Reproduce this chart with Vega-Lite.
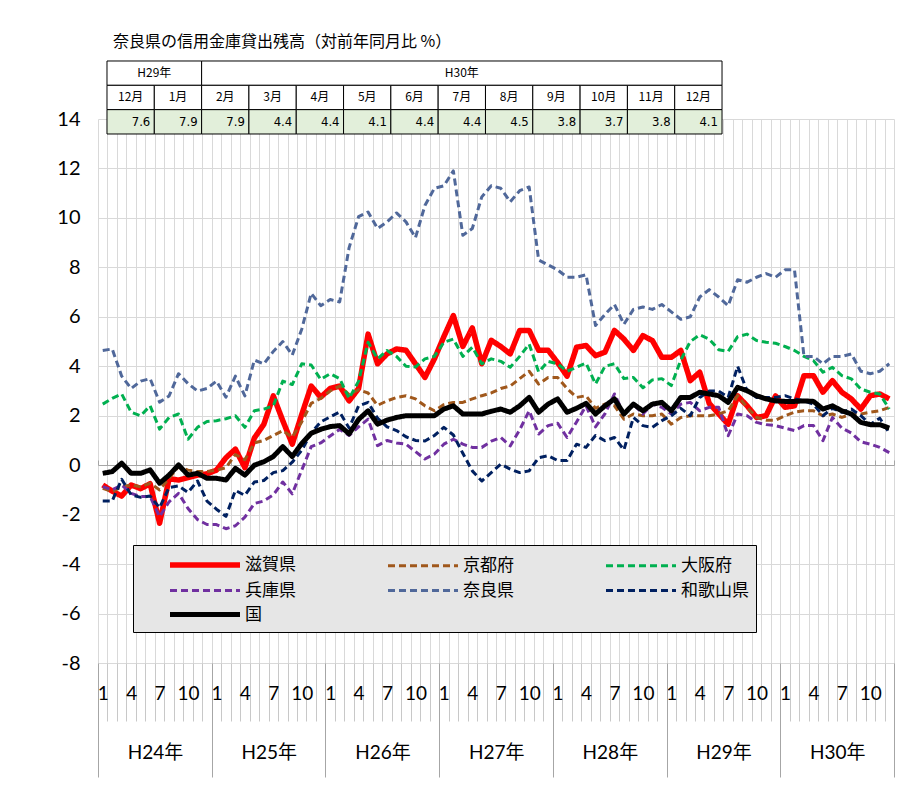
{
"$schema":"https://vega.github.io/schema/vega-lite/v6.json",
"autosize":{"type":"none"},
"width":796,"height":544,
"padding":{"left":98,"top":119,"right":10,"bottom":125},
"background":"#ffffff",
"config":{"view":{"stroke":null},"font":"Lato"},
"title":{"text":"奈良県の信用金庫貸出残高（対前年同月比 %）","anchor":"start","frame":"group","dx":15,"offset":10,"font":"Noto Sans CJK JP","fontSize":16,"fontWeight":"normal","color":"#000000"},
"datasets":{
"lines":[
{"s":"滋賀県","t":1,"v":-0.8},{"s":"滋賀県","t":2,"v":-1.05},{"s":"滋賀県","t":3,"v":-1.25},{"s":"滋賀県","t":4,"v":-0.8},{"s":"滋賀県","t":5,"v":-0.95},{"s":"滋賀県","t":6,"v":-0.75},{"s":"滋賀県","t":7,"v":-2.35},{"s":"滋賀県","t":8,"v":-0.55},{"s":"滋賀県","t":9,"v":-0.6},{"s":"滋賀県","t":10,"v":-0.5},{"s":"滋賀県","t":11,"v":-0.4},{"s":"滋賀県","t":12,"v":-0.35},
{"s":"滋賀県","t":13,"v":-0.2},{"s":"滋賀県","t":14,"v":0.3},{"s":"滋賀県","t":15,"v":0.65},{"s":"滋賀県","t":16,"v":-0.1},{"s":"滋賀県","t":17,"v":1.1},{"s":"滋賀県","t":18,"v":1.65},{"s":"滋賀県","t":19,"v":2.8},{"s":"滋賀県","t":20,"v":1.8},{"s":"滋賀県","t":21,"v":0.85},{"s":"滋賀県","t":22,"v":2.05},{"s":"滋賀県","t":23,"v":3.2},{"s":"滋賀県","t":24,"v":2.75},
{"s":"滋賀県","t":25,"v":3.1},{"s":"滋賀県","t":26,"v":3.2},{"s":"滋賀県","t":27,"v":2.6},{"s":"滋賀県","t":28,"v":3.1},{"s":"滋賀県","t":29,"v":5.3},{"s":"滋賀県","t":30,"v":4.1},{"s":"滋賀県","t":31,"v":4.5},{"s":"滋賀県","t":32,"v":4.7},{"s":"滋賀県","t":33,"v":4.65},{"s":"滋賀県","t":34,"v":4.1},{"s":"滋賀県","t":35,"v":3.55},{"s":"滋賀県","t":36,"v":4.3},
{"s":"滋賀県","t":37,"v":5.2},{"s":"滋賀県","t":38,"v":6.05},{"s":"滋賀県","t":39,"v":4.8},{"s":"滋賀県","t":40,"v":5.55},{"s":"滋賀県","t":41,"v":4.1},{"s":"滋賀県","t":42,"v":5.05},{"s":"滋賀県","t":43,"v":4.8},{"s":"滋賀県","t":44,"v":4.5},{"s":"滋賀県","t":45,"v":5.45},{"s":"滋賀県","t":46,"v":5.45},{"s":"滋賀県","t":47,"v":4.65},{"s":"滋賀県","t":48,"v":4.65},
{"s":"滋賀県","t":49,"v":4.15},{"s":"滋賀県","t":50,"v":3.6},{"s":"滋賀県","t":51,"v":4.77},{"s":"滋賀県","t":52,"v":4.84},{"s":"滋賀県","t":53,"v":4.43},{"s":"滋賀県","t":54,"v":4.57},{"s":"滋賀県","t":55,"v":5.45},{"s":"滋賀県","t":56,"v":5.1},{"s":"滋賀県","t":57,"v":4.64},{"s":"滋賀県","t":58,"v":5.24},{"s":"滋賀県","t":59,"v":5.04},{"s":"滋賀県","t":60,"v":4.36},
{"s":"滋賀県","t":61,"v":4.36},{"s":"滋賀県","t":62,"v":4.64},{"s":"滋賀県","t":63,"v":3.42},{"s":"滋賀県","t":64,"v":3.76},{"s":"滋賀県","t":65,"v":2.5},{"s":"滋賀県","t":66,"v":2.07},{"s":"滋賀県","t":67,"v":1.66},{"s":"滋賀県","t":68,"v":2.8},{"s":"滋賀県","t":69,"v":2.4},{"s":"滋賀県","t":70,"v":1.93},{"s":"滋賀県","t":71,"v":2.0},{"s":"滋賀県","t":72,"v":2.8},
{"s":"滋賀県","t":73,"v":2.34},{"s":"滋賀県","t":74,"v":2.4},{"s":"滋賀県","t":75,"v":3.62},{"s":"滋賀県","t":76,"v":3.62},{"s":"滋賀県","t":77,"v":2.95},{"s":"滋賀県","t":78,"v":3.42},{"s":"滋賀県","t":79,"v":2.95},{"s":"滋賀県","t":80,"v":2.68},{"s":"滋賀県","t":81,"v":2.27},{"s":"滋賀県","t":82,"v":2.81},{"s":"滋賀県","t":83,"v":2.88},{"s":"滋賀県","t":84,"v":2.68},
{"s":"京都府","t":1,"v":-0.94},{"s":"京都府","t":2,"v":-1.07},{"s":"京都府","t":3,"v":-0.87},{"s":"京都府","t":4,"v":-0.8},{"s":"京都府","t":5,"v":-0.87},{"s":"京都府","t":6,"v":-0.73},{"s":"京都府","t":7,"v":-1.0},{"s":"京都府","t":8,"v":-0.53},{"s":"京都府","t":9,"v":-0.06},{"s":"京都府","t":10,"v":-0.2},{"s":"京都府","t":11,"v":-0.26},{"s":"京都府","t":12,"v":-0.26},
{"s":"京都府","t":13,"v":-0.2},{"s":"京都府","t":14,"v":-0.1},{"s":"京都府","t":15,"v":0.43},{"s":"京都府","t":16,"v":0.22},{"s":"京都府","t":17,"v":0.9},{"s":"京都府","t":18,"v":1.0},{"s":"京都府","t":19,"v":1.2},{"s":"京都府","t":20,"v":1.4},{"s":"京都府","t":21,"v":1.13},{"s":"京都府","t":22,"v":1.75},{"s":"京都府","t":23,"v":2.5},{"s":"京都府","t":24,"v":2.7},
{"s":"京都府","t":25,"v":3.0},{"s":"京都府","t":26,"v":3.2},{"s":"京都府","t":27,"v":2.85},{"s":"京都府","t":28,"v":3.05},{"s":"京都府","t":29,"v":2.92},{"s":"京都府","t":30,"v":2.42},{"s":"京都府","t":31,"v":2.6},{"s":"京都府","t":32,"v":2.74},{"s":"京都府","t":33,"v":2.81},{"s":"京都府","t":34,"v":2.68},{"s":"京都府","t":35,"v":2.4},{"s":"京都府","t":36,"v":2.2},
{"s":"京都府","t":37,"v":2.45},{"s":"京都府","t":38,"v":2.54},{"s":"京都府","t":39,"v":2.54},{"s":"京都府","t":40,"v":2.68},{"s":"京都府","t":41,"v":2.81},{"s":"京都府","t":42,"v":2.92},{"s":"京都府","t":43,"v":3.1},{"s":"京都府","t":44,"v":3.2},{"s":"京都府","t":45,"v":3.5},{"s":"京都府","t":46,"v":3.8},{"s":"京都府","t":47,"v":3.28},{"s":"京都府","t":48,"v":3.55},
{"s":"京都府","t":49,"v":3.55},{"s":"京都府","t":50,"v":3.1},{"s":"京都府","t":51,"v":2.74},{"s":"京都府","t":52,"v":2.81},{"s":"京都府","t":53,"v":2.3},{"s":"京都府","t":54,"v":2.47},{"s":"京都府","t":55,"v":2.4},{"s":"京都府","t":56,"v":1.86},{"s":"京都府","t":57,"v":2.07},{"s":"京都府","t":58,"v":2.0},{"s":"京都府","t":59,"v":2.0},{"s":"京都府","t":60,"v":2.07},
{"s":"京都府","t":61,"v":1.66},{"s":"京都府","t":62,"v":1.93},{"s":"京都府","t":63,"v":2.0},{"s":"京都府","t":64,"v":2.0},{"s":"京都府","t":65,"v":2.0},{"s":"京都府","t":66,"v":2.07},{"s":"京都府","t":67,"v":2.2},{"s":"京都府","t":68,"v":2.81},{"s":"京都府","t":69,"v":2.34},{"s":"京都府","t":70,"v":1.93},{"s":"京都府","t":71,"v":1.82},{"s":"京都府","t":72,"v":1.82},
{"s":"京都府","t":73,"v":2.0},{"s":"京都府","t":74,"v":2.14},{"s":"京都府","t":75,"v":2.2},{"s":"京都府","t":76,"v":2.2},{"s":"京都府","t":77,"v":2.0},{"s":"京都府","t":78,"v":2.07},{"s":"京都府","t":79,"v":1.93},{"s":"京都府","t":80,"v":2.07},{"s":"京都府","t":81,"v":2.07},{"s":"京都府","t":82,"v":2.14},{"s":"京都府","t":83,"v":2.2},{"s":"京都府","t":84,"v":2.34},
{"s":"大阪府","t":1,"v":2.47},{"s":"大阪府","t":2,"v":2.7},{"s":"大阪府","t":3,"v":2.88},{"s":"大阪府","t":4,"v":2.14},{"s":"大阪府","t":5,"v":2.0},{"s":"大阪府","t":6,"v":2.4},{"s":"大阪府","t":7,"v":1.46},{"s":"大阪府","t":8,"v":1.93},{"s":"大阪府","t":9,"v":2.07},{"s":"大阪府","t":10,"v":1.05},{"s":"大阪府","t":11,"v":1.53},{"s":"大阪府","t":12,"v":1.77},
{"s":"大阪府","t":13,"v":1.8},{"s":"大阪府","t":14,"v":1.88},{"s":"大阪府","t":15,"v":2.0},{"s":"大阪府","t":16,"v":1.53},{"s":"大阪府","t":17,"v":2.2},{"s":"大阪府","t":18,"v":2.27},{"s":"大阪府","t":19,"v":2.4},{"s":"大阪府","t":20,"v":3.4},{"s":"大阪府","t":21,"v":3.26},{"s":"大阪府","t":22,"v":4.1},{"s":"大阪府","t":23,"v":4.05},{"s":"大阪府","t":24,"v":3.47},
{"s":"大阪府","t":25,"v":3.7},{"s":"大阪府","t":26,"v":3.5},{"s":"大阪府","t":27,"v":2.7},{"s":"大阪府","t":28,"v":3.4},{"s":"大阪府","t":29,"v":4.97},{"s":"大阪府","t":30,"v":4.3},{"s":"大阪府","t":31,"v":4.64},{"s":"大阪府","t":32,"v":4.4},{"s":"大阪府","t":33,"v":4.0},{"s":"大阪府","t":34,"v":3.97},{"s":"大阪府","t":35,"v":4.3},{"s":"大阪府","t":36,"v":4.4},
{"s":"大阪府","t":37,"v":4.97},{"s":"大阪府","t":38,"v":5.1},{"s":"大阪府","t":39,"v":4.4},{"s":"大阪府","t":40,"v":4.77},{"s":"大阪府","t":41,"v":4.1},{"s":"大阪府","t":42,"v":4.3},{"s":"大阪府","t":43,"v":4.2},{"s":"大阪府","t":44,"v":3.96},{"s":"大阪府","t":45,"v":4.4},{"s":"大阪府","t":46,"v":4.9},{"s":"大阪府","t":47,"v":3.77},{"s":"大阪府","t":48,"v":4.2},
{"s":"大阪府","t":49,"v":4.1},{"s":"大阪府","t":50,"v":3.8},{"s":"大阪府","t":51,"v":3.96},{"s":"大阪府","t":52,"v":4.13},{"s":"大阪府","t":53,"v":3.28},{"s":"大阪府","t":54,"v":4.0},{"s":"大阪府","t":55,"v":4.1},{"s":"大阪府","t":56,"v":3.5},{"s":"大阪府","t":57,"v":3.55},{"s":"大阪府","t":58,"v":3.13},{"s":"大阪府","t":59,"v":3.45},{"s":"大阪府","t":60,"v":3.5},
{"s":"大阪府","t":61,"v":3.22},{"s":"大阪府","t":62,"v":4.25},{"s":"大阪府","t":63,"v":5.0},{"s":"大阪府","t":64,"v":5.27},{"s":"大阪府","t":65,"v":5.1},{"s":"大阪府","t":66,"v":4.67},{"s":"大阪府","t":67,"v":4.6},{"s":"大阪府","t":68,"v":5.2},{"s":"大阪府","t":69,"v":5.3},{"s":"大阪府","t":70,"v":5.04},{"s":"大阪府","t":71,"v":4.97},{"s":"大阪府","t":72,"v":4.93},
{"s":"大阪府","t":73,"v":4.8},{"s":"大阪府","t":74,"v":4.64},{"s":"大阪府","t":75,"v":4.4},{"s":"大阪府","t":76,"v":4.23},{"s":"大阪府","t":77,"v":3.76},{"s":"大阪府","t":78,"v":3.96},{"s":"大阪府","t":79,"v":3.62},{"s":"大阪府","t":80,"v":3.49},{"s":"大阪府","t":81,"v":3.08},{"s":"大阪府","t":82,"v":2.95},{"s":"大阪府","t":83,"v":2.88},{"s":"大阪府","t":84,"v":2.27},
{"s":"兵庫県","t":1,"v":-0.87},{"s":"兵庫県","t":2,"v":-1.0},{"s":"兵庫県","t":3,"v":-0.8},{"s":"兵庫県","t":4,"v":-1.14},{"s":"兵庫県","t":5,"v":-1.27},{"s":"兵庫県","t":6,"v":-1.27},{"s":"兵庫県","t":7,"v":-2.08},{"s":"兵庫県","t":8,"v":-1.48},{"s":"兵庫県","t":9,"v":-1.14},{"s":"兵庫県","t":10,"v":-1.75},{"s":"兵庫県","t":11,"v":-2.2},{"s":"兵庫県","t":12,"v":-2.4},
{"s":"兵庫県","t":13,"v":-2.4},{"s":"兵庫県","t":14,"v":-2.57},{"s":"兵庫県","t":15,"v":-2.45},{"s":"兵庫県","t":16,"v":-2.1},{"s":"兵庫県","t":17,"v":-1.55},{"s":"兵庫県","t":18,"v":-1.45},{"s":"兵庫県","t":19,"v":-1.2},{"s":"兵庫県","t":20,"v":-0.68},{"s":"兵庫県","t":21,"v":-1.16},{"s":"兵庫県","t":22,"v":-0.2},{"s":"兵庫県","t":23,"v":0.75},{"s":"兵庫県","t":24,"v":0.9},
{"s":"兵庫県","t":25,"v":1.18},{"s":"兵庫県","t":26,"v":1.45},{"s":"兵庫県","t":27,"v":1.2},{"s":"兵庫県","t":28,"v":1.55},{"s":"兵庫県","t":29,"v":1.86},{"s":"兵庫県","t":30,"v":0.79},{"s":"兵庫県","t":31,"v":1.0},{"s":"兵庫県","t":32,"v":0.9},{"s":"兵庫県","t":33,"v":0.85},{"s":"兵庫県","t":34,"v":0.55},{"s":"兵庫県","t":35,"v":0.25},{"s":"兵庫県","t":36,"v":0.45},
{"s":"兵庫県","t":37,"v":0.85},{"s":"兵庫県","t":38,"v":1.05},{"s":"兵庫県","t":39,"v":0.85},{"s":"兵庫県","t":40,"v":0.72},{"s":"兵庫県","t":41,"v":0.72},{"s":"兵庫県","t":42,"v":0.97},{"s":"兵庫県","t":43,"v":1.12},{"s":"兵庫県","t":44,"v":0.78},{"s":"兵庫県","t":45,"v":1.43},{"s":"兵庫県","t":46,"v":2.2},{"s":"兵庫県","t":47,"v":1.26},{"s":"兵庫県","t":48,"v":1.6},
{"s":"兵庫県","t":49,"v":1.7},{"s":"兵庫県","t":50,"v":1.12},{"s":"兵庫県","t":51,"v":1.75},{"s":"兵庫県","t":52,"v":2.4},{"s":"兵庫県","t":53,"v":1.55},{"s":"兵庫県","t":54,"v":2.08},{"s":"兵庫県","t":55,"v":2.88},{"s":"兵庫県","t":56,"v":2.07},{"s":"兵庫県","t":57,"v":2.47},{"s":"兵庫県","t":58,"v":2.07},{"s":"兵庫県","t":59,"v":2.47},{"s":"兵庫県","t":60,"v":2.34},
{"s":"兵庫県","t":61,"v":2.07},{"s":"兵庫県","t":62,"v":2.47},{"s":"兵庫県","t":63,"v":2.54},{"s":"兵庫県","t":64,"v":2.2},{"s":"兵庫県","t":65,"v":2.34},{"s":"兵庫県","t":66,"v":2.34},{"s":"兵庫県","t":67,"v":1.19},{"s":"兵庫県","t":68,"v":2.07},{"s":"兵庫県","t":69,"v":2.0},{"s":"兵庫県","t":70,"v":1.73},{"s":"兵庫県","t":71,"v":1.64},{"s":"兵庫県","t":72,"v":1.6},
{"s":"兵庫県","t":73,"v":1.5},{"s":"兵庫県","t":74,"v":1.4},{"s":"兵庫県","t":75,"v":1.6},{"s":"兵庫県","t":76,"v":1.6},{"s":"兵庫県","t":77,"v":0.99},{"s":"兵庫県","t":78,"v":1.93},{"s":"兵庫県","t":79,"v":1.5},{"s":"兵庫県","t":80,"v":1.3},{"s":"兵庫県","t":81,"v":0.95},{"s":"兵庫県","t":82,"v":0.85},{"s":"兵庫県","t":83,"v":0.72},{"s":"兵庫県","t":84,"v":0.51},
{"s":"奈良県","t":1,"v":4.64},{"s":"奈良県","t":2,"v":4.7},{"s":"奈良県","t":3,"v":3.6},{"s":"奈良県","t":4,"v":3.1},{"s":"奈良県","t":5,"v":3.4},{"s":"奈良県","t":6,"v":3.5},{"s":"奈良県","t":7,"v":2.55},{"s":"奈良県","t":8,"v":2.8},{"s":"奈良県","t":9,"v":3.7},{"s":"奈良県","t":10,"v":3.3},{"s":"奈良県","t":11,"v":3.0},{"s":"奈良県","t":12,"v":3.1},
{"s":"奈良県","t":13,"v":3.4},{"s":"奈良県","t":14,"v":2.75},{"s":"奈良県","t":15,"v":3.6},{"s":"奈良県","t":16,"v":2.8},{"s":"奈良県","t":17,"v":4.25},{"s":"奈良県","t":18,"v":4.1},{"s":"奈良県","t":19,"v":4.6},{"s":"奈良県","t":20,"v":5.0},{"s":"奈良県","t":21,"v":4.45},{"s":"奈良県","t":22,"v":5.5},{"s":"奈良県","t":23,"v":6.95},{"s":"奈良県","t":24,"v":6.45},
{"s":"奈良県","t":25,"v":6.7},{"s":"奈良県","t":26,"v":6.6},{"s":"奈良県","t":27,"v":8.8},{"s":"奈良県","t":28,"v":10.05},{"s":"奈良県","t":29,"v":10.24},{"s":"奈良県","t":30,"v":9.57},{"s":"奈良県","t":31,"v":9.84},{"s":"奈良県","t":32,"v":10.2},{"s":"奈良県","t":33,"v":9.84},{"s":"奈良県","t":34,"v":9.2},{"s":"奈良県","t":35,"v":10.5},{"s":"奈良県","t":36,"v":11.2},
{"s":"奈良県","t":37,"v":11.3},{"s":"奈良県","t":38,"v":11.9},{"s":"奈良県","t":39,"v":9.3},{"s":"奈良県","t":40,"v":9.57},{"s":"奈良県","t":41,"v":10.85},{"s":"奈良県","t":42,"v":11.3},{"s":"奈良県","t":43,"v":11.2},{"s":"奈良県","t":44,"v":10.65},{"s":"奈良県","t":45,"v":11.1},{"s":"奈良県","t":46,"v":11.25},{"s":"奈良県","t":47,"v":8.3},{"s":"奈良県","t":48,"v":8.1},
{"s":"奈良県","t":49,"v":7.9},{"s":"奈良県","t":50,"v":7.6},{"s":"奈良県","t":51,"v":7.6},{"s":"奈良県","t":52,"v":7.7},{"s":"奈良県","t":53,"v":5.65},{"s":"奈良県","t":54,"v":6.1},{"s":"奈良県","t":55,"v":6.5},{"s":"奈良県","t":56,"v":5.7},{"s":"奈良県","t":57,"v":6.3},{"s":"奈良県","t":58,"v":6.4},{"s":"奈良県","t":59,"v":6.3},{"s":"奈良県","t":60,"v":6.5},
{"s":"奈良県","t":61,"v":6.2},{"s":"奈良県","t":62,"v":5.9},{"s":"奈良県","t":63,"v":6.0},{"s":"奈良県","t":64,"v":6.8},{"s":"奈良県","t":65,"v":7.1},{"s":"奈良県","t":66,"v":6.8},{"s":"奈良県","t":67,"v":6.45},{"s":"奈良県","t":68,"v":7.5},{"s":"奈良県","t":69,"v":7.4},{"s":"奈良県","t":70,"v":7.6},{"s":"奈良県","t":71,"v":7.75},{"s":"奈良県","t":72,"v":7.6},
{"s":"奈良県","t":73,"v":7.9},{"s":"奈良県","t":74,"v":7.9},{"s":"奈良県","t":75,"v":4.4},{"s":"奈良県","t":76,"v":4.4},{"s":"奈良県","t":77,"v":4.1},{"s":"奈良県","t":78,"v":4.4},{"s":"奈良県","t":79,"v":4.4},{"s":"奈良県","t":80,"v":4.5},{"s":"奈良県","t":81,"v":3.8},{"s":"奈良県","t":82,"v":3.7},{"s":"奈良県","t":83,"v":3.8},{"s":"奈良県","t":84,"v":4.1},
{"s":"和歌山県","t":1,"v":-1.45},{"s":"和歌山県","t":2,"v":-1.45},{"s":"和歌山県","t":3,"v":-0.57},{"s":"和歌山県","t":4,"v":-1.2},{"s":"和歌山県","t":5,"v":-1.3},{"s":"和歌山県","t":6,"v":-1.25},{"s":"和歌山県","t":7,"v":-1.72},{"s":"和歌山県","t":8,"v":-0.9},{"s":"和歌山県","t":9,"v":-0.84},{"s":"和歌山県","t":10,"v":-1.1},{"s":"和歌山県","t":11,"v":-0.64},{"s":"和歌山県","t":12,"v":-1.45},
{"s":"和歌山県","t":13,"v":-1.78},{"s":"和歌山県","t":14,"v":-2.07},{"s":"和歌山県","t":15,"v":-1.02},{"s":"和歌山県","t":16,"v":-1.22},{"s":"和歌山県","t":17,"v":-0.68},{"s":"和歌山県","t":18,"v":-0.62},{"s":"和歌山県","t":19,"v":-0.3},{"s":"和歌山県","t":20,"v":-0.22},{"s":"和歌山県","t":21,"v":0.12},{"s":"和歌山県","t":22,"v":0.6},{"s":"和歌山県","t":23,"v":1.3},{"s":"和歌山県","t":24,"v":1.75},
{"s":"和歌山県","t":25,"v":1.95},{"s":"和歌山県","t":26,"v":2.15},{"s":"和歌山県","t":27,"v":1.5},{"s":"和歌山県","t":28,"v":2.4},{"s":"和歌山県","t":29,"v":2.54},{"s":"和歌山県","t":30,"v":1.9},{"s":"和歌山県","t":31,"v":1.55},{"s":"和歌山県","t":32,"v":1.4},{"s":"和歌山県","t":33,"v":1.15},{"s":"和歌山県","t":34,"v":1.0},{"s":"和歌山県","t":35,"v":0.98},{"s":"和歌山県","t":36,"v":1.2},
{"s":"和歌山県","t":37,"v":1.53},{"s":"和歌山県","t":38,"v":1.22},{"s":"和歌山県","t":39,"v":0.48},{"s":"和歌山県","t":40,"v":-0.23},{"s":"和歌山県","t":41,"v":-0.64},{"s":"和歌山県","t":42,"v":-0.3},{"s":"和歌山県","t":43,"v":0.04},{"s":"和歌山県","t":44,"v":-0.16},{"s":"和歌山県","t":45,"v":-0.3},{"s":"和歌山県","t":46,"v":-0.23},{"s":"和歌山県","t":47,"v":0.3},{"s":"和歌山県","t":48,"v":0.38},
{"s":"和歌山県","t":49,"v":0.19},{"s":"和歌山県","t":50,"v":0.19},{"s":"和歌山県","t":51,"v":0.85},{"s":"和歌山県","t":52,"v":0.72},{"s":"和歌山県","t":53,"v":1.2},{"s":"和歌山県","t":54,"v":0.99},{"s":"和歌山県","t":55,"v":1.12},{"s":"和歌山県","t":56,"v":0.62},{"s":"和歌山県","t":57,"v":1.93},{"s":"和歌山県","t":58,"v":1.6},{"s":"和歌山県","t":59,"v":1.53},{"s":"和歌山県","t":60,"v":1.8},
{"s":"和歌山県","t":61,"v":2.0},{"s":"和歌山県","t":62,"v":2.3},{"s":"和歌山県","t":63,"v":2.0},{"s":"和歌山県","t":64,"v":2.74},{"s":"和歌山県","t":65,"v":3.0},{"s":"和歌山県","t":66,"v":3.0},{"s":"和歌山県","t":67,"v":2.74},{"s":"和歌山県","t":68,"v":4.0},{"s":"和歌山県","t":69,"v":3.0},{"s":"和歌山県","t":70,"v":2.74},{"s":"和歌山県","t":71,"v":2.74},{"s":"和歌山県","t":72,"v":2.74},
{"s":"和歌山県","t":73,"v":2.81},{"s":"和歌山県","t":74,"v":2.68},{"s":"和歌山県","t":75,"v":2.6},{"s":"和歌山県","t":76,"v":2.47},{"s":"和歌山県","t":77,"v":2.0},{"s":"和歌山県","t":78,"v":2.3},{"s":"和歌山県","t":79,"v":2.14},{"s":"和歌山県","t":80,"v":2.27},{"s":"和歌山県","t":81,"v":2.0},{"s":"和歌山県","t":82,"v":1.65},{"s":"和歌山県","t":83,"v":1.9},{"s":"和歌山県","t":84,"v":1.3},
{"s":"国","t":1,"v":-0.33},{"s":"国","t":2,"v":-0.26},{"s":"国","t":3,"v":0.08},{"s":"国","t":4,"v":-0.33},{"s":"国","t":5,"v":-0.33},{"s":"国","t":6,"v":-0.19},{"s":"国","t":7,"v":-0.73},{"s":"国","t":8,"v":-0.4},{"s":"国","t":9,"v":0.01},{"s":"国","t":10,"v":-0.4},{"s":"国","t":11,"v":-0.33},{"s":"国","t":12,"v":-0.53},
{"s":"国","t":13,"v":-0.53},{"s":"国","t":14,"v":-0.6},{"s":"国","t":15,"v":-0.13},{"s":"国","t":16,"v":-0.4},{"s":"国","t":17,"v":0.0},{"s":"国","t":18,"v":0.14},{"s":"国","t":19,"v":0.35},{"s":"国","t":20,"v":0.75},{"s":"国","t":21,"v":0.35},{"s":"国","t":22,"v":0.88},{"s":"国","t":23,"v":1.29},{"s":"国","t":24,"v":1.45},
{"s":"国","t":25,"v":1.56},{"s":"国","t":26,"v":1.6},{"s":"国","t":27,"v":1.27},{"s":"国","t":28,"v":1.85},{"s":"国","t":29,"v":2.2},{"s":"国","t":30,"v":1.66},{"s":"国","t":31,"v":1.82},{"s":"国","t":32,"v":1.93},{"s":"国","t":33,"v":2.0},{"s":"国","t":34,"v":2.0},{"s":"国","t":35,"v":2.0},{"s":"国","t":36,"v":2.0},
{"s":"国","t":37,"v":2.27},{"s":"国","t":38,"v":2.4},{"s":"国","t":39,"v":2.07},{"s":"国","t":40,"v":2.07},{"s":"国","t":41,"v":2.07},{"s":"国","t":42,"v":2.18},{"s":"国","t":43,"v":2.27},{"s":"国","t":44,"v":2.14},{"s":"国","t":45,"v":2.4},{"s":"国","t":46,"v":2.74},{"s":"国","t":47,"v":2.14},{"s":"国","t":48,"v":2.47},
{"s":"国","t":49,"v":2.68},{"s":"国","t":50,"v":2.14},{"s":"国","t":51,"v":2.3},{"s":"国","t":52,"v":2.5},{"s":"国","t":53,"v":2.07},{"s":"国","t":54,"v":2.4},{"s":"国","t":55,"v":2.68},{"s":"国","t":56,"v":2.07},{"s":"国","t":57,"v":2.47},{"s":"国","t":58,"v":2.2},{"s":"国","t":59,"v":2.47},{"s":"国","t":60,"v":2.54},
{"s":"国","t":61,"v":2.2},{"s":"国","t":62,"v":2.74},{"s":"国","t":63,"v":2.74},{"s":"国","t":64,"v":2.95},{"s":"国","t":65,"v":2.88},{"s":"国","t":66,"v":2.81},{"s":"国","t":67,"v":2.54},{"s":"国","t":68,"v":3.15},{"s":"国","t":69,"v":3.01},{"s":"国","t":70,"v":2.81},{"s":"国","t":71,"v":2.68},{"s":"国","t":72,"v":2.6},
{"s":"国","t":73,"v":2.58},{"s":"国","t":74,"v":2.58},{"s":"国","t":75,"v":2.6},{"s":"国","t":76,"v":2.58},{"s":"国","t":77,"v":2.27},{"s":"国","t":78,"v":2.4},{"s":"国","t":79,"v":2.2},{"s":"国","t":80,"v":2.07},{"s":"国","t":81,"v":1.73},{"s":"国","t":82,"v":1.64},{"s":"国","t":83,"v":1.64},{"s":"国","t":84,"v":1.5}
],
"table":[
{"row":"header","c0":0,"c1":2,"r0":0,"r1":1,"label":"H29年"},
{"row":"header","c0":2,"c1":13,"r0":0,"r1":1,"label":"H30年"},
{"row":"month","c0":0,"c1":1,"r0":1,"r1":2,"label":"12月"},
{"row":"month","c0":1,"c1":2,"r0":1,"r1":2,"label":"1月"},
{"row":"month","c0":2,"c1":3,"r0":1,"r1":2,"label":"2月"},
{"row":"month","c0":3,"c1":4,"r0":1,"r1":2,"label":"3月"},
{"row":"month","c0":4,"c1":5,"r0":1,"r1":2,"label":"4月"},
{"row":"month","c0":5,"c1":6,"r0":1,"r1":2,"label":"5月"},
{"row":"month","c0":6,"c1":7,"r0":1,"r1":2,"label":"6月"},
{"row":"month","c0":7,"c1":8,"r0":1,"r1":2,"label":"7月"},
{"row":"month","c0":8,"c1":9,"r0":1,"r1":2,"label":"8月"},
{"row":"month","c0":9,"c1":10,"r0":1,"r1":2,"label":"9月"},
{"row":"month","c0":10,"c1":11,"r0":1,"r1":2,"label":"10月"},
{"row":"month","c0":11,"c1":12,"r0":1,"r1":2,"label":"11月"},
{"row":"month","c0":12,"c1":13,"r0":1,"r1":2,"label":"12月"},
{"row":"value","c0":0,"c1":1,"r0":2,"r1":3,"label":"7.6"},
{"row":"value","c0":1,"c1":2,"r0":2,"r1":3,"label":"7.9"},
{"row":"value","c0":2,"c1":3,"r0":2,"r1":3,"label":"7.9"},
{"row":"value","c0":3,"c1":4,"r0":2,"r1":3,"label":"4.4"},
{"row":"value","c0":4,"c1":5,"r0":2,"r1":3,"label":"4.4"},
{"row":"value","c0":5,"c1":6,"r0":2,"r1":3,"label":"4.1"},
{"row":"value","c0":6,"c1":7,"r0":2,"r1":3,"label":"4.4"},
{"row":"value","c0":7,"c1":8,"r0":2,"r1":3,"label":"4.4"},
{"row":"value","c0":8,"c1":9,"r0":2,"r1":3,"label":"4.5"},
{"row":"value","c0":9,"c1":10,"r0":2,"r1":3,"label":"3.8"},
{"row":"value","c0":10,"c1":11,"r0":2,"r1":3,"label":"3.7"},
{"row":"value","c0":11,"c1":12,"r0":2,"r1":3,"label":"3.8"},
{"row":"value","c0":12,"c1":13,"r0":2,"r1":3,"label":"4.1"}
]
},
"layer":[
{
"data":{"name":"lines"},
"mark":{"type":"line","strokeCap":"butt","strokeJoin":"round"},
"encoding":{
"x":{"field":"t","type":"quantitative","scale":{"domain":[0.5,84.5],"nice":false,"zero":false},
"axis":{"orient":"bottom","title":null,"labels":false,"domain":false,"grid":true,"gridColor":"#d9d9d9","gridWidth":1,"ticks":true,"tickSize":58,"tickColor":"#c8c8c8","tickWidth":1,
"values":[0.5,1.5,2.5,3.5,4.5,5.5,6.5,7.5,8.5,9.5,10.5,11.5,12.5,13.5,14.5,15.5,16.5,17.5,18.5,19.5,20.5,21.5,22.5,23.5,24.5,25.5,26.5,27.5,28.5,29.5,30.5,31.5,32.5,33.5,34.5,35.5,36.5,37.5,38.5,39.5,40.5,41.5,42.5,43.5,44.5,45.5,46.5,47.5,48.5,49.5,50.5,51.5,52.5,53.5,54.5,55.5,56.5,57.5,58.5,59.5,60.5,61.5,62.5,63.5,64.5,65.5,66.5,67.5,68.5,69.5,70.5,71.5,72.5,73.5,74.5,75.5,76.5,77.5,78.5,79.5,80.5,81.5,82.5,83.5,84.5]}},
"y":{"field":"v","type":"quantitative","scale":{"domain":[-8,14],"nice":false,"zero":false},
"axis":{"title":null,"values":[-8,-6,-4,-2,0,2,4,6,8,10,12,14],"labelExpr":"replace(datum.label, '−', '-')","grid":true,"gridColor":"#d9d9d9","domain":false,"ticks":false,"labelFont":"Lato","labelFontSize":20,"labelColor":"#000000","labelPadding":18}},
"color":{"field":"s","type":"nominal",
"scale":{"domain":["滋賀県","京都府","大阪府","兵庫県","奈良県","和歌山県","国"],"range":["#ff0000","#a0581c","#00b050","#7030a0","#50689a","#002060","#000000"]},
"legend":{"orient":"none","legendX":35,"legendY":426,"direction":"horizontal","columns":3,"title":null,"symbolType":"M-1,0H6","symbolSize":400,"labelFont":"Noto Sans CJK JP","labelFontSize":17,"labelColor":"#000000","labelOffset":52,"symbolOffset":27,"columnPadding":62,"rowPadding":3,"padding":7,"fillColor":"#e6e6e6","strokeColor":"#000000","gridAlign":"each","labelLimit":300,"zindex":1}},
"strokeDash":{"field":"s","type":"nominal","scale":{"domain":["滋賀県","京都府","大阪府","兵庫県","奈良県","和歌山県","国"],"range":[[1,0],[7,4],[7,4],[7,4],[7,4],[7,4],[1,0]]}},
"strokeWidth":{"field":"s","type":"nominal","scale":{"type":"ordinal","domain":["滋賀県","京都府","大阪府","兵庫県","奈良県","和歌山県","国"],"range":[5.5,3,3,3,3,3,5]}}
}
},
{
"data":{"name":"lines"},
"mark":{"type":"rule","opacity":0},
"encoding":{"x":{"field":"t","type":"quantitative","scale":{"domain":[0.5,84.5],"nice":false,"zero":false},
"axis":{"orient":"bottom","title":null,"grid":false,"domain":false,"ticks":false,"labelPadding":30,"labelBaseline":"middle","labelFont":"Lato","labelFontSize":19,"labelColor":"#000000","labelOverlap":false,"labelFlush":false,"labelBound":false,
"values":[1,4,7,10,13,16,19,22,25,28,31,34,37,40,43,46,49,52,55,58,61,64,67,70,73,76,79,82],
"labelExpr":"(datum.value - 1) % 12 + 1"}}}
},
{
"data":{"name":"lines"},
"mark":{"type":"rule","opacity":0},
"encoding":{"x":{"field":"t","type":"quantitative","scale":{"domain":[0.5,84.5],"nice":false,"zero":false},
"axis":{"orient":"bottom","title":null,"grid":false,"domain":false,"ticks":true,"tickSize":114,"tickColor":"#a6a6a6","tickWidth":1,"labelPadding":-25,"labelBaseline":"middle","labelOffset":57,"labelFont":"Lato, Noto Sans CJK JP","labelFontSize":19,"labelColor":"#000000","labelOverlap":false,"labelFlush":false,"labelBound":false,
"values":[0.5,12.5,24.5,36.5,48.5,60.5,72.5,84.5],
"labelExpr":"datum.value < 84 ? 'H' + (24 + floor(datum.value / 12)) + '年' : ''"}}}
},
{
"data":{"name":"lines"},
"mark":{"type":"rule","opacity":0},
"encoding":{"x":{"field":"t","type":"quantitative","scale":{"domain":[0.5,84.5],"nice":false,"zero":false},
"axis":{"orient":"top","offset":-346,"title":null,"grid":false,"labels":false,"domain":true,"domainColor":"#a6a6a6","domainWidth":1,"ticks":true,"tickSize":5,"tickColor":"#a6a6a6","tickWidth":1,
"values":[0.5,1.5,2.5,3.5,4.5,5.5,6.5,7.5,8.5,9.5,10.5,11.5,12.5,13.5,14.5,15.5,16.5,17.5,18.5,19.5,20.5,21.5,22.5,23.5,24.5,25.5,26.5,27.5,28.5,29.5,30.5,31.5,32.5,33.5,34.5,35.5,36.5,37.5,38.5,39.5,40.5,41.5,42.5,43.5,44.5,45.5,46.5,47.5,48.5,49.5,50.5,51.5,52.5,53.5,54.5,55.5,56.5,57.5,58.5,59.5,60.5,61.5,62.5,63.5,64.5,65.5,66.5,67.5,68.5,69.5,70.5,71.5,72.5,73.5,74.5,75.5,76.5,77.5,78.5,79.5,80.5,81.5,82.5,83.5,84.5]}}}
},
{
"data":{"name":"table"},
"transform":[{"calculate":"(datum.c0 + datum.c1) / 2","as":"cm"},{"calculate":"(datum.r0 + datum.r1) / 2","as":"rm"}],
"layer":[
{"mark":{"type":"rect","stroke":"#000000","strokeWidth":1},
"encoding":{
"x":{"field":"c0","type":"quantitative","scale":{"domain":[-0.1902,16.635],"nice":false,"zero":false},"axis":null},
"x2":{"field":"c1"},
"y":{"field":"r0","type":"quantitative","scale":{"domain":[2.384,24.74],"reverse":true,"nice":false,"zero":false},"axis":null},
"y2":{"field":"r1"},
"fill":{"field":"row","type":"nominal","scale":{"domain":["header","month","value"],"range":["#ffffff","#ffffff","#e2efda"]},"legend":null}}},
{"transform":[{"filter":"datum.row != 'value'"}],
"mark":{"type":"text","font":"Noto Sans CJK JP","fontSize":12,"baseline":"middle","align":"center","color":"#000000"},
"encoding":{"x":{"field":"cm","type":"quantitative","axis":null},"y":{"field":"rm","type":"quantitative","axis":null},"text":{"field":"label"}}},
{"transform":[{"filter":"datum.row == 'value'"}],
"mark":{"type":"text","font":"DejaVu Sans Condensed","fontSize":13,"baseline":"middle","align":"right","dx":-4,"color":"#000000"},
"encoding":{"x":{"field":"c1","type":"quantitative","axis":null},"y":{"field":"rm","type":"quantitative","axis":null},"text":{"field":"label"}}}
]
}
],
"resolve":{"scale":{"x":"independent","y":"independent"}}
}
